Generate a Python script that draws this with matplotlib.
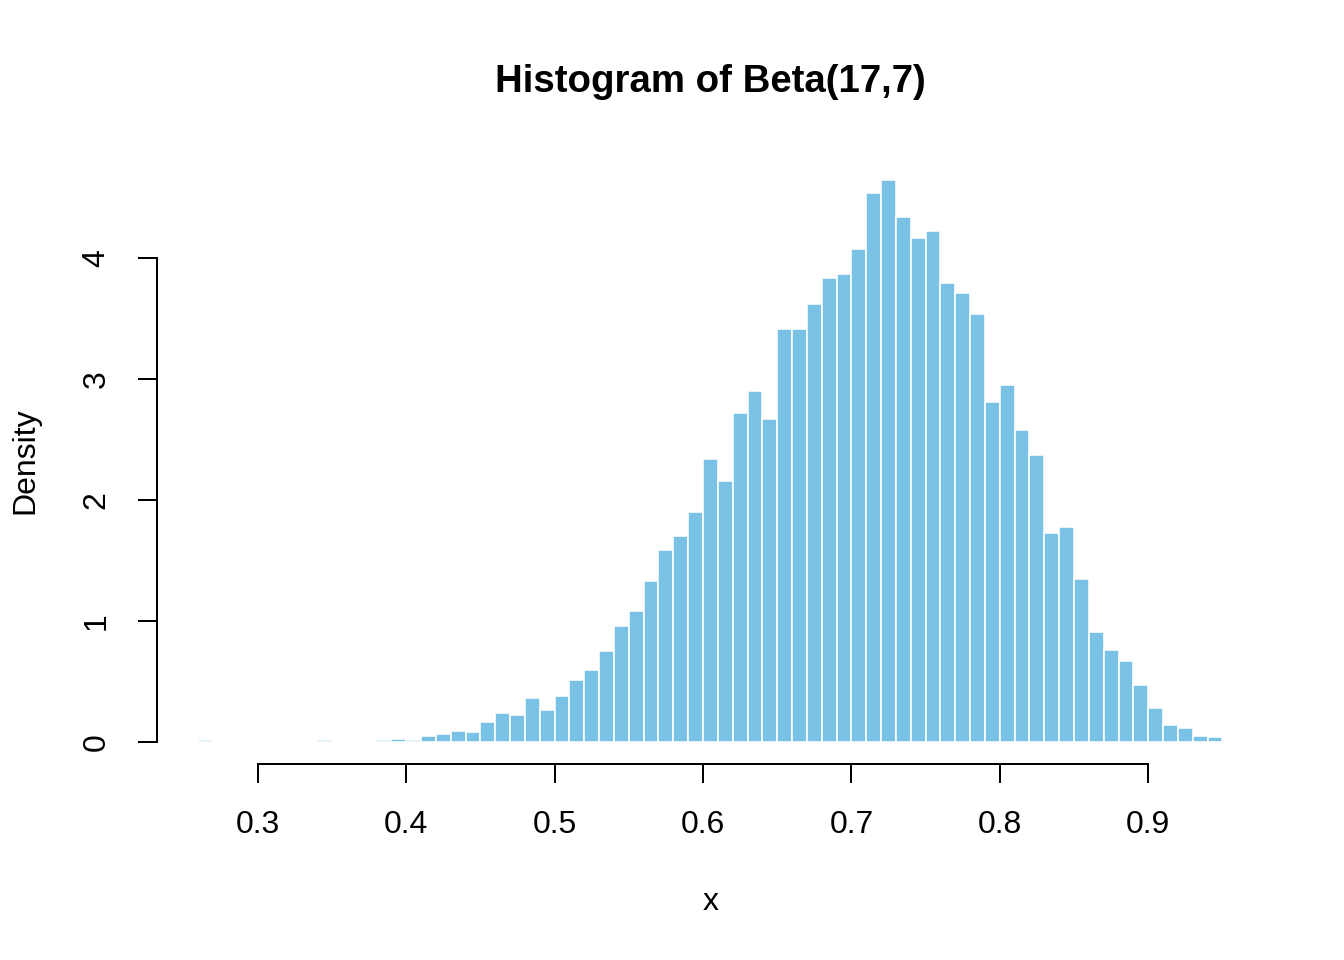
import matplotlib
matplotlib.use("Agg")
import matplotlib.pyplot as plt
import numpy as np

plt.rcParams['font.family'] = ['Liberation Sans', 'DejaVu Sans']

# histogram of Beta(17,7) draws, bin width 0.01
bin_start = 0.26
bin_width = 0.01
density = [0.01, 0, 0, 0, 0, 0, 0, 0, 0.01, 0, 0, 0, 0.01, 0.02, 0.01,
           0.05, 0.06, 0.09, 0.08, 0.16, 0.24, 0.22, 0.36, 0.26, 0.38,
           0.51, 0.59, 0.75, 0.96, 1.08, 1.33, 1.59, 1.70, 1.90, 2.34,
           2.16, 2.72, 2.90, 2.67, 3.42, 3.42, 3.62, 3.84, 3.87, 4.08,
           4.54, 4.65, 4.34, 4.17, 4.23, 3.80, 3.71, 3.54, 2.81, 2.95,
           2.58, 2.37, 1.73, 1.78, 1.35, 0.91, 0.76, 0.67, 0.47, 0.28,
           0.14, 0.11, 0.05, 0.04]
x_ticks = [0.3, 0.4, 0.5, 0.6, 0.7, 0.8, 0.9]
y_ticks = [0, 1, 2, 3, 4]

W, H = 1344, 960
dpi = 192
fig = plt.figure(figsize=(W / dpi, H / dpi), dpi=dpi)

# R default margins: mar = c(5.1, 4.1, 4.1, 2.1) lines, 1 line = 0.2 in
line = 0.2 * dpi
left, right = 4.1 * line, W - 2.1 * line
bottom, top = 5.1 * line, H - 4.1 * line
ax = fig.add_axes([left / W, bottom / H, (right - left) / W, (top - bottom) / H])

edges = bin_start + bin_width * np.arange(len(density) + 1)
ax.bar(edges[:-1], density, width=bin_width, align='edge',
       color='#79C2E5', edgecolor='white', linewidth=0.6)

# R style 4% axis extension
xr = edges[-1] - edges[0]
ax.set_xlim(edges[0] - 0.04 * xr, edges[-1] + 0.04 * xr)
ymax = max(density)
ax.set_ylim(-0.04 * ymax, ymax * 1.04)

for s in ['top', 'right']:
    ax.spines[s].set_visible(False)
ax.spines['bottom'].set_bounds(x_ticks[0], x_ticks[-1])
ax.spines['left'].set_bounds(y_ticks[0], y_ticks[-1])
for s in ['bottom', 'left']:
    ax.spines[s].set_linewidth(0.75)

ax.set_xticks(x_ticks)
ax.set_xticklabels([f"{v:.1f}" for v in x_ticks])
ax.set_yticks(y_ticks)
ax.set_yticklabels([str(v) for v in y_ticks], rotation=90, va='center')
ax.tick_params(axis='both', direction='out', length=7.2, width=0.75,
               labelsize=12, pad=10)

fig.text(0.5 * (left + right) / W, 1 - 82 / H, 'Histogram of Beta(17,7)',
         ha='center', va='center', fontsize=14.4, fontweight='bold')
fig.text(0.5 * (left + right) / W, 1 - 902 / H, 'x',
         ha='center', va='center', fontsize=12)
fig.text(25 / W, 1 - 0.5 * (H - top + H - bottom) / H, 'Density',
         ha='center', va='center', rotation=90, fontsize=12)

fig.savefig('out.png', dpi=dpi)
